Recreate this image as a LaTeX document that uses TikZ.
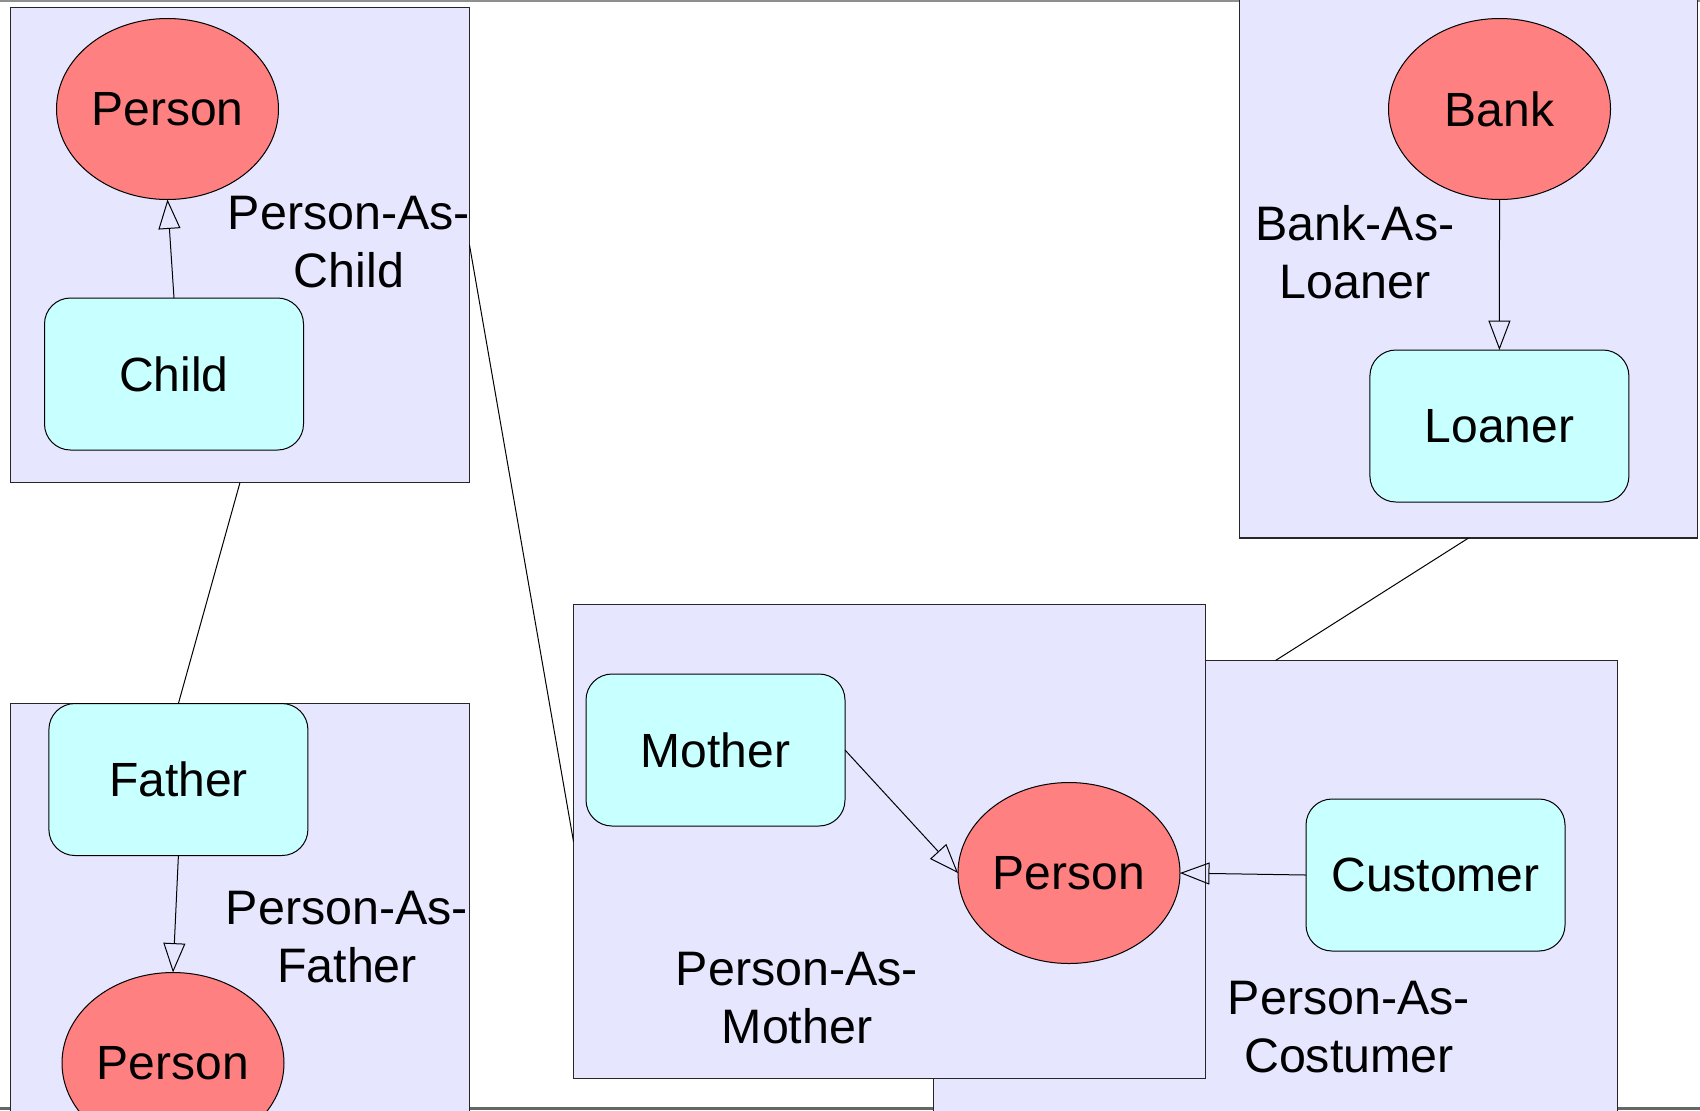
\documentclass[tikz,border=0pt]{standalone}
\usepackage{fontspec}
\setmainfont{Liberation Sans}
\usetikzlibrary{arrows.meta,shapes.geometric}

\definecolor{rolebg}{HTML}{E6E6FF}
\definecolor{entityfill}{HTML}{FF8080}
\definecolor{rolefill}{HTML}{C8FFFF}
\definecolor{edgegrey}{HTML}{8F8F8F}
\definecolor{edgedark}{HTML}{666666}

\tikzset{
  container/.style={draw=black!85, line width=0.6pt, fill=rolebg,
    rectangle, inner sep=0pt, outer sep=0pt},
  entity/.style={draw=black, line width=0.5pt, fill=entityfill,
    ellipse, minimum width=111pt, minimum height=90.5pt, inner sep=0pt,
    outer sep=0pt, font=\fontsize{24}{28.8}\selectfont},
  rolebox/.style={draw=black, line width=0.5pt, fill=rolefill,
    rectangle, rounded corners=13pt, minimum width=129.5pt,
    minimum height=76pt, inner sep=0pt, outer sep=0pt,
    font=\fontsize{24}{28.8}\selectfont},
  caption/.style={align=center, inner sep=0pt,
    font=\fontsize{24.2}{29.3}\selectfont},
  link/.style={draw=black, line width=0.5pt},
  spec/.style={draw=black, line width=0.5pt,
    -{Triangle[open, length=14.7pt, width=11pt]}},
}

\begin{document}
\begin{tikzpicture}[x=0.5pt, y=-0.5pt]
  \useasboundingbox (0,0) rectangle (1700,1110);
  \clip (0,0) rectangle (1700,1110);
  \fill[white] (0,0) rectangle (1700,1110);

  % page edges
  \fill[edgegrey] (0,0) rectangle (1700,2);
  \fill[edgedark] (0,1107) rectangle (1700,1110);

  % role containers
  \node[container, minimum width=229.5pt, minimum height=237.5pt] (childbox) at (240,245) {};
  \node[container, minimum width=229.5pt, minimum height=218.25pt] (fatherbox) at (240,921.75) {};
  \node[container, minimum width=229pt, minimum height=284pt] (bankbox) at (1468.5,254) {};
  \node[container, minimum width=342pt, minimum height=239.75pt] (custbox) at (1275.5,900.25) {};
  \node[container, minimum width=316pt, minimum height=237pt] (motherbox) at (889.5,841.5) {};

  % entities and roles
  \node[entity] (person1) at (167.5,109) {Person};
  \node[rolebox] (child) at (174,374) {Child};
  \node[caption] (childlbl) at (349,242) {Person-As-\\Child};

  \node[entity] (bank) at (1499.5,109) {Bank};
  \node[rolebox] (loaner) at (1499.4,426) {Loaner};
  \node[caption] (banklbl) at (1355,252) {Bank-As-\\Loaner};

  \node[rolebox] (father) at (178.4,779.5) {Father};
  \node[entity] (person3) at (173,1063) {Person};
  \node[caption] (fatherlbl) at (347,937) {Person-As-\\Father};

  \node[rolebox] (mother) at (715.5,750) {Mother};
  \node[entity] (person2) at (1069,873) {Person};
  \node[caption] (motherlbl) at (797,998) {Person-As-\\Mother};

  \node[rolebox] (customer) at (1435.5,875) {Customer};
  \node[caption] (custlbl) at (1349,1027) {Person-As-\\Costumer};

  % links between containers
  \draw[link] (childbox.south) -- (father.north);
  \draw[link] (childbox.east) -- (motherbox.west);
  \draw[link] (bankbox.south) -- (custbox.north);

  % role-to-entity arrows
  \draw[spec] (child.north) -- (person1.south);
  \draw[spec] (bank.south) -- (loaner.north);
  \draw[spec] (father.south) -- (person3.north);
  \draw[spec] (mother.east) -- (person2.west);
  \draw[spec] (customer.west) -- (person2.east);
\end{tikzpicture}
\end{document}
